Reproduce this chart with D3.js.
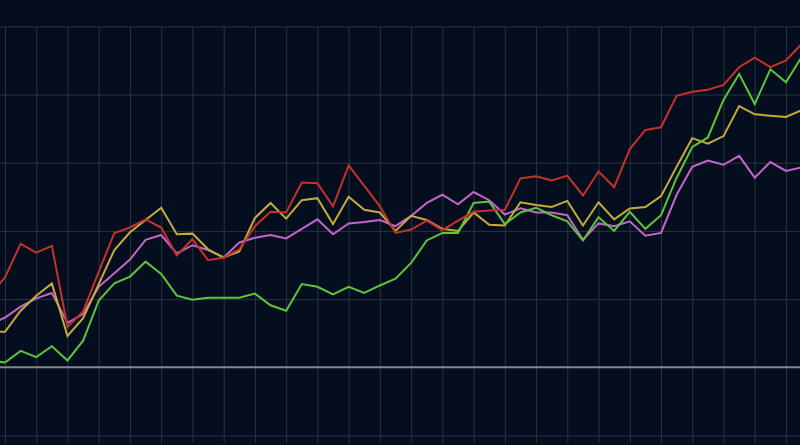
<!DOCTYPE html>
<html>
<head>
<meta charset="utf-8">
<script src="https://cdn.jsdelivr.net/npm/d3@7"></script>
<style>
  html, body { margin: 0; padding: 0; background: #050e1f; }
  svg { display: block; }
  .grid line { stroke: #2a3342; stroke-width: 1; }
  .grid path { display: none; }
  .grid text { display: none; }
</style>
</head>
<body>
<div id="chart"></div>
<script>
var width = 800
var height = 445

// sample index (one point per half grid column), -1 .. 51
var steps = d3.range(-1, 52)

var red = [10.5, 13.2, 18.1, 16.8, 17.8, 5.9, 8.2, 14.0, 19.7, 20.5, 21.7, 20.5, 16.4, 18.8, 15.7, 16.1, 17.3, 20.7, 22.8, 22.7, 27.1, 27.0, 23.6, 29.6, 26.6, 23.6, 19.7, 20.2, 21.5, 20.1, 21.5, 22.8, 23.0, 23.1, 27.7, 28.0, 27.4, 28.1, 25.2, 28.7, 26.4, 32.0, 34.8, 35.2, 39.8, 40.4, 40.7, 41.4, 44.0, 45.4, 44.0, 45.0, 47.4]
var green = [1.0, 0.7, 2.4, 1.5, 3.1, 1.0, 3.9, 9.8, 12.3, 13.3, 15.5, 13.7, 10.5, 9.9, 10.2, 10.2, 10.2, 10.8, 9.1, 8.3, 12.2, 11.8, 10.7, 11.8, 10.9, 12.0, 13.0, 15.3, 18.6, 19.7, 19.7, 24.1, 24.3, 21.0, 22.7, 23.4, 22.3, 21.4, 18.6, 22.0, 20.0, 22.8, 20.3, 22.3, 27.8, 32.3, 33.7, 39.2, 43.0, 38.6, 43.7, 41.8, 45.5]
var yellow = [5.2, 5.2, 8.3, 10.5, 12.3, 4.6, 7.2, 12.2, 17.2, 19.8, 21.6, 23.4, 19.5, 19.6, 17.3, 16.1, 17.0, 21.9, 24.1, 21.8, 24.5, 24.8, 21.0, 25.0, 23.1, 22.7, 20.0, 22.2, 21.6, 20.3, 20.0, 22.7, 20.9, 20.8, 24.2, 23.8, 23.5, 24.4, 20.8, 24.2, 21.7, 23.3, 23.5, 25.1, 29.4, 33.6, 32.8, 33.9, 38.3, 37.1, 36.9, 36.7, 37.7]
var purple = [6.2, 7.3, 8.9, 10.1, 10.9, 6.5, 7.8, 11.8, 13.8, 15.8, 18.7, 19.4, 16.7, 17.9, 17.2, 16.1, 18.3, 19.0, 19.4, 18.9, 20.3, 21.7, 19.5, 21.1, 21.3, 21.6, 20.7, 22.2, 24.1, 25.3, 23.9, 25.7, 24.5, 22.4, 23.3, 22.7, 22.7, 22.3, 18.7, 21.1, 20.7, 21.4, 19.3, 19.7, 25.3, 29.4, 30.3, 29.7, 31.0, 27.8, 30.1, 28.8, 29.3]

var yTicks = [-10, 0, 10, 20, 30, 40, 50]
var xTicks = d3.range(0, 51, 2)

var series = [
  { name: "purple", color: "#c465c9", values: purple },
  { name: "yellow", color: "#c5ab3c", values: yellow },
  { name: "green", color: "#5cc53a", values: green },
  { name: "red", color: "#c5322a", values: red }
]

var svg = d3.select("#chart").append("svg")
            .attr("width", width)
            .attr("height", height)

svg.append("rect").attr("width", width).attr("height", height).attr("fill", "#050e1f")

var x = d3.scaleLinear().domain([-1, 51]).range([-10.6, 801.6])
var y = d3.scaleLinear().domain([-10, 50]).range([435.5, 26.3])

// horizontal grid
svg.append("g")
   .attr("class", "grid")
   .call(d3.axisLeft(y).tickValues(yTicks).tickSize(-width).tickFormat(""))
   .selectAll(".tick")
   .filter(function(d){ return d === 0 })
   .remove()

// vertical grid, runs a bit past the bottom line
svg.append("g")
   .attr("class", "grid")
   .attr("transform", "translate(0,443)")
   .call(d3.axisBottom(x).tickValues(xTicks).tickSize(-(443 - y(50))).tickFormat(""))

// zero line
svg.append("line")
   .attr("x1", 0).attr("x2", width)
   .attr("y1", y(0)).attr("y2", y(0))
   .style("stroke", "#858788")
   .style("stroke-width", 2)

var line = d3.line()
             .x(function(d, i){ return x(steps[i]) })
             .y(function(d){ return y(d) })

svg.selectAll("path.series")
   .data(series)
   .enter()
   .append("path")
   .attr("class", "series")
   .attr("fill", "none")
   .attr("stroke", function(d){ return d.color })
   .attr("stroke-width", 2)
   .attr("stroke-linejoin", "miter")
   .attr("d", function(d){ return line(d.values) })
</script>
</body>
</html>
